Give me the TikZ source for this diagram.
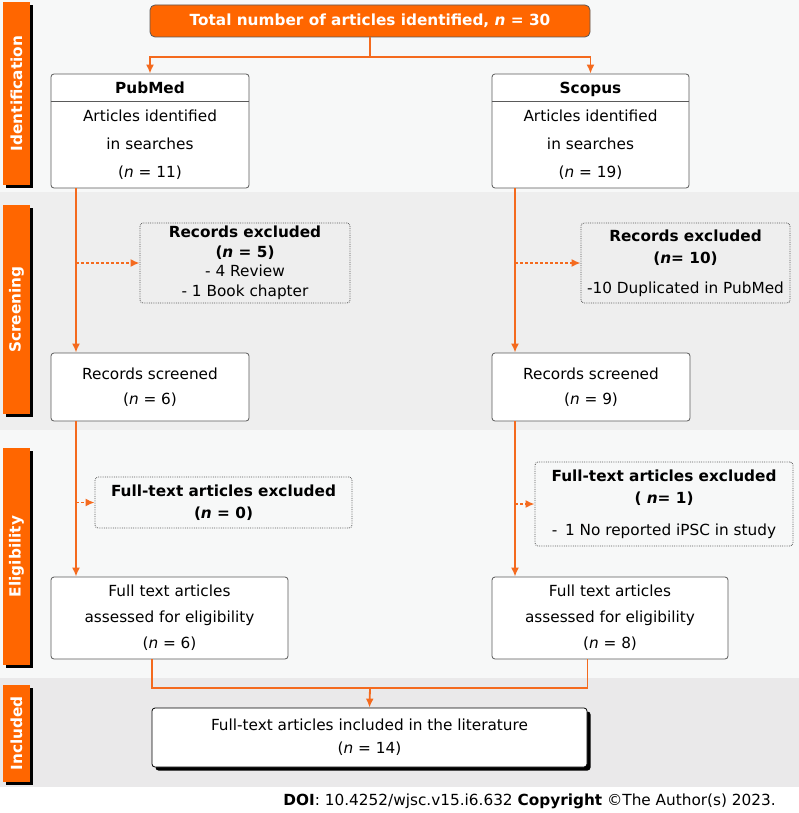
\documentclass[tikz,border=0pt]{standalone}
\usepackage{fontspec}
\setmainfont{DejaVu Sans}
\usetikzlibrary{arrows.meta,positioning,shadows}

\definecolor{prisma}{RGB}{255,102,0}
\definecolor{flowline}{RGB}{244,106,30}
\definecolor{bandlight}{RGB}{247,248,248}
\definecolor{banddark}{RGB}{238,238,238}
\definecolor{bandinc}{RGB}{234,233,234}
\definecolor{edgegray}{RGB}{90,90,90}

\tikzset{
    stage/.style={fill=prisma, text=white, rotate=90, inner sep=0pt, minimum height=27pt,
        font=\fontsize{15.3}{18}\selectfont\bfseries},
    titlebox/.style={fill=prisma, draw=black!65, line width=0.8pt, rounded corners=5pt,
        text=white, inner sep=0pt, font=\fontsize{15.3}{18}\selectfont\bfseries},
    box/.style={draw=edgegray, line width=0.8pt, fill=white, rounded corners=3pt,
        align=center, inner sep=0pt, font=\fontsize{15.3}{#1}\selectfont},
    box/.default=26,
    exbox/.style={draw=edgegray, densely dotted, line width=0.8pt, rounded corners=3pt,
        align=center, inner sep=0pt, font=\fontsize{15.3}{#1}\selectfont},
    exbox/.default=21,
    flow/.style={draw=flowline, line width=1.8pt},
    skip/.style={flow, ->, dash pattern=on 3pt off 2pt}
}

\begin{document}
\begin{tikzpicture}[x=1pt, y=-1pt, >={Latex[length=9pt,width=8pt]}]
    % ==== BANDS ====
    \useasboundingbox (0,0) rectangle (799,813);
    \fill[white] (0,0) rectangle (799,813);
    \fill[bandlight] (0,0) rectangle (799,192);
    \fill[banddark] (0,192) rectangle (799,430);
    \fill[bandlight] (0,430) rectangle (799,678);
    \fill[bandinc] (0,678) rectangle (799,787);

    % ==== STAGE LABELS ====
    \fill[black] (6,5) rectangle (33,188);
    \fill[black] (6,208) rectangle (33,417);
    \fill[black] (6,451) rectangle (33,668);
    \fill[black] (6,688) rectangle (33,785);
    \node[stage, minimum width=183pt] (identLabel) at (16.5,93.5) {Identification};
    \node[stage, minimum width=209pt] (screenLabel) at (16.5,309.5) {Screening};
    \node[stage, minimum width=217pt] (eligLabel) at (16.5,556.5) {Eligibility};
    \node[stage, minimum width=97pt] (inclLabel) at (16.5,733.5) {Included};

    % ==== IDENTIFICATION ====
    \node[titlebox, minimum width=440pt, minimum height=32pt] (total) at (370,21)
        {Total number of articles identified, \textit{n} = 30};
    \node[box=28, minimum width=198pt, minimum height=114pt] (pubmed) at (150,131)
        {\textbf{PubMed}\\Articles identified\\in searches\\(\textit{n} = 11)};
    \node[box=28, minimum width=197pt, minimum height=114pt] (scopus) at (590.5,131)
        {\textbf{Scopus}\\Articles identified\\in searches\\(\textit{n} = 19)};
    \draw[edgegray, line width=0.8pt] ([yshift=-28pt]pubmed.north west) -- ([yshift=-28pt]pubmed.north east);
    \draw[edgegray, line width=0.8pt] ([yshift=-28pt]scopus.north west) -- ([yshift=-28pt]scopus.north east);

    % ==== SCREENING ====
    \node[exbox=19.5, minimum width=210pt, minimum height=80pt] (exclL) at (245,263)
        {\textbf{Records excluded}\\\textbf{(\textit{n} = 5)}\\- 4 Review\\- 1 Book chapter};
    \node[exbox=22, minimum width=209pt, minimum height=80pt] (exclR) at (685.5,263)
        {\textbf{Records excluded}\\\textbf{(\textit{n}= 10)}\\[8pt]-10 Duplicated in PubMed};
    \node[box=25, minimum width=198pt, minimum height=68pt] (screenL) at (150,387)
        {Records screened\\(\textit{n} = 6)};
    \node[box=25, minimum width=198pt, minimum height=68pt] (screenR) at (591,387)
        {Records screened\\(\textit{n} = 9)};

    % ==== ELIGIBILITY ====
    \node[exbox=22, minimum width=257pt, minimum height=51pt] (fullexL) at (223.5,502.5)
        {\textbf{Full-text articles excluded}\\\textbf{(\textit{n} = 0)}};
    \node[exbox=22, minimum width=258pt, minimum height=84pt] (fullexR) at (664,504)
        {\textbf{Full-text articles excluded}\\\textbf{( \textit{n}= 1)}\\[10pt]-\enspace 1 No reported iPSC in study};
    \node[box=26, minimum width=237pt, minimum height=82pt] (fullL) at (169.5,618)
        {Full text articles\\assessed for eligibility\\(\textit{n} = 6)};
    \node[box=26, minimum width=236pt, minimum height=82pt] (fullR) at (610,618)
        {Full text articles\\assessed for eligibility\\(\textit{n} = 8)};

    % ==== INCLUDED ====
    \node[box=23, draw=black, minimum width=435pt, minimum height=59pt,
        drop shadow={shadow xshift=3.5pt, shadow yshift=-3.5pt, fill=black, opacity=1}] (incl) at (369.5,737.5)
        {Full-text articles included in the literature\\(\textit{n} = 14)};

    % ==== FLOW LINES ====
    \coordinate (split) at (370,57);
    \coordinate (lineL) at (76,0);
    \coordinate (lineR) at (515,0);
    \coordinate (merge) at (370,688);
    \draw[flow] (total.south) -- (split);
    \draw[flow, ->] (split) -| (pubmed.north);
    \draw[flow, ->] (split) -| (scopus.north);
    \draw[flow, ->] (pubmed.south -| lineL) -- (screenL.north -| lineL);
    \draw[flow, ->] (screenL.south -| lineL) -- (fullL.north -| lineL);
    \draw[flow, ->] (scopus.south -| lineR) -- (screenR.north -| lineR);
    \draw[flow, ->] (screenR.south -| lineR) -- (fullR.north -| lineR);
    \draw[skip] (exclL.west -| lineL) -- (exclL.west);
    \draw[skip] (exclR.west -| lineR) -- (exclR.west);
    \draw[skip] (fullexL.west -| lineL) -- (fullexL.west);
    \draw[skip] (fullexR.west -| lineR) -- (fullexR.west);
    \draw[flow] (fullL.south -| incl.west) |- (merge) -| (fullR.south -| incl.east);
    \draw[flow, ->] (merge) -- (incl.north);

    % === SOURCE LINE ===
    \node[anchor=east, inner sep=0pt, font=\fontsize{15.3}{18}\selectfont] (doi) at (776,801)
        {\textbf{DOI}: 10.4252/wjsc.v15.i6.632 \textbf{Copyright} ©The Author(s) 2023.};
\end{tikzpicture}
\end{document}
